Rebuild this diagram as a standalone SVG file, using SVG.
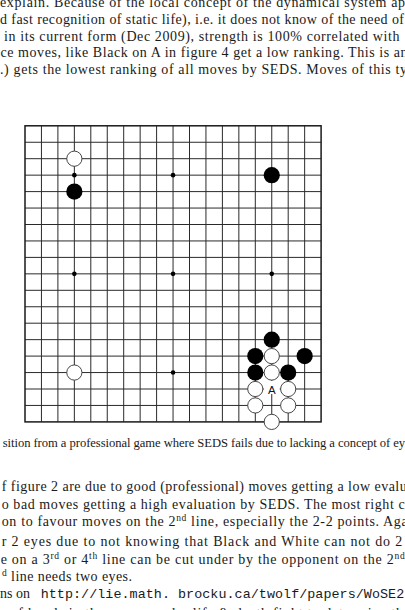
<svg xmlns="http://www.w3.org/2000/svg" width="405" height="610" viewBox="0 0 405 610">
<style>
.t{font-family:"Liberation Serif","Times New Roman",serif;font-size:14px;fill:#1a1a1a}
.c{font-family:"Liberation Serif","Times New Roman",serif;font-size:12.6px;fill:#1a1a1a}
.m{font-family:"Liberation Mono","Courier New",monospace;font-size:13.4px}
.grid{stroke:#2a2a2a;stroke-width:1;fill:none}
.border{stroke:#1a1a1a;stroke-width:1.5;fill:none}
.b{fill:#000}
.w{fill:#fff;stroke:#333;stroke-width:0.9}
.s{fill:#000}
</style>
<rect width="405" height="610" fill="#fff"/>
<g id="text-top">
<text class="t" x="0" y="7.3" textLength="405" lengthAdjust="spacing">explain. Because of the local concept of the dynamical system ap</text>
<text class="t" x="0" y="24" textLength="404" lengthAdjust="spacing">d fast recognition of static life), i.e. it does not know of the need of</text>
<text class="t" x="4" y="40.7" textLength="395.5" lengthAdjust="spacing">in its current form (Dec 2009), strength is 100% correlated with</text>
<text class="t" x="0.5" y="57.3" textLength="407" lengthAdjust="spacing">ce moves, like Black on A in figure 4 get a low ranking. This is an</text>
<text class="t" x="0" y="74" textLength="407" lengthAdjust="spacing">.) gets the lowest ranking of all moves by SEDS. Moves of this ty</text>
</g>
<g id="board">
<path class="grid" d="M41.45 125.8V421.9M57.9 125.8V421.9M74.35 125.8V421.9M90.8 125.8V421.9M107.25 125.8V421.9M123.7 125.8V421.9M140.15 125.8V421.9M156.6 125.8V421.9M173.05 125.8V421.9M189.5 125.8V421.9M205.95 125.8V421.9M222.4 125.8V421.9M238.85 125.8V421.9M255.3 125.8V421.9M271.75 125.8V421.9M288.2 125.8V421.9M304.65 125.8V421.9M25 142.25H321.1M25 158.7H321.1M25 175.15H321.1M25 191.6H321.1M25 208.05H321.1M25 224.5H321.1M25 240.95H321.1M25 257.4H321.1M25 273.85H321.1M25 290.3H321.1M25 306.75H321.1M25 323.2H321.1M25 339.65H321.1M25 356.1H321.1M25 372.55H321.1M25 389H321.1M25 405.45H321.1"/>
<rect class="border" x="25" y="125.8" width="296.1" height="296.1"/>
<g id="hoshi">
<circle class="s" cx="74.35" cy="175.15" r="2.3"/>
<circle class="s" cx="173.05" cy="175.15" r="2.3"/>
<circle class="s" cx="74.35" cy="273.85" r="2.3"/>
<circle class="s" cx="173.05" cy="273.85" r="2.3"/>
<circle class="s" cx="271.75" cy="273.85" r="2.3"/>
<circle class="s" cx="173.05" cy="372.55" r="2.3"/>
</g>
<rect x="263.8" y="381" width="15.9" height="13" fill="#fff"/>
<g id="stones">
<circle class="w" cx="74.35" cy="158.7" r="7.6"/>
<circle class="b" cx="74.35" cy="191.6" r="8.1"/>
<circle class="b" cx="271.75" cy="175.15" r="8.1"/>
<circle class="w" cx="74.35" cy="372.55" r="7.6"/>
<circle class="b" cx="271.75" cy="339.65" r="8.1"/>
<circle class="b" cx="255.3" cy="356.1" r="8.1"/>
<circle class="w" cx="271.75" cy="356.1" r="7.6"/>
<circle class="b" cx="304.65" cy="356.1" r="8.1"/>
<circle class="b" cx="255.3" cy="372.55" r="8.1"/>
<circle class="w" cx="271.75" cy="372.55" r="7.6"/>
<circle class="b" cx="288.2" cy="372.55" r="8.1"/>
<circle class="w" cx="255.3" cy="389" r="7.6"/>
<circle class="w" cx="288.2" cy="389" r="7.6"/>
<circle class="w" cx="255.3" cy="405.45" r="7.6"/>
<circle class="w" cx="288.2" cy="405.45" r="7.6"/>
<circle class="w" cx="271.75" cy="421.9" r="7.6"/>
</g>
<g id="label-A">
<text x="271.75" y="393.5" text-anchor="middle" font-family="Liberation Sans, Arial, sans-serif" font-size="11.5" fill="#111">A</text>
</g>
</g>
<g id="caption">
<text class="c" x="2.7" y="446.7" textLength="408" lengthAdjust="spacing">sition from a professional game where SEDS fails due to lacking a concept of eye</text>
</g>
<g id="text-bottom">
<text class="t" x="1.7" y="491" textLength="405" lengthAdjust="spacing">f figure 2 are due to good (professional) moves getting a low evalu</text>
<text class="t" x="1.7" y="508.5" textLength="403" lengthAdjust="spacing">o bad moves getting a high evaluation by SEDS. The most right c</text>
<text class="t" x="1.7" y="526" textLength="406" lengthAdjust="spacing">on to favour moves on the 2<tspan font-size="9.5" dy="-5">nd</tspan><tspan dy="5"> line, especially the 2-2 points. Aga</tspan></text>
<text class="t" x="1.7" y="546" textLength="400.5" lengthAdjust="spacing">r 2 eyes due to not knowing that Black and White can not do 2</text>
<text class="t" x="0.7" y="564" textLength="404" lengthAdjust="spacing">e on a 3<tspan font-size="9.5" dy="-5">rd</tspan><tspan dy="5"> or 4</tspan><tspan font-size="9.5" dy="-5">th</tspan><tspan dy="5"> line can be cut under by the opponent on the 2</tspan><tspan font-size="9.5" dy="-5">nd</tspan></text>
<text class="t" x="2" y="581" textLength="130" lengthAdjust="spacing"><tspan font-size="9.5" dy="-5">d</tspan><tspan dy="5"> line needs two eyes.</tspan></text>
<text class="t" x="0" y="598">ns on <tspan class="m" x="40.7" textLength="363.5" lengthAdjust="spacing">http://lie.math. brocku.ca/twolf/papers/WoSE2</tspan></text>
<text class="t" x="0" y="617.5" textLength="410" lengthAdjust="spacing">s of hands in the games under life &amp; death fight to determine the</text>
</g>
</svg>
